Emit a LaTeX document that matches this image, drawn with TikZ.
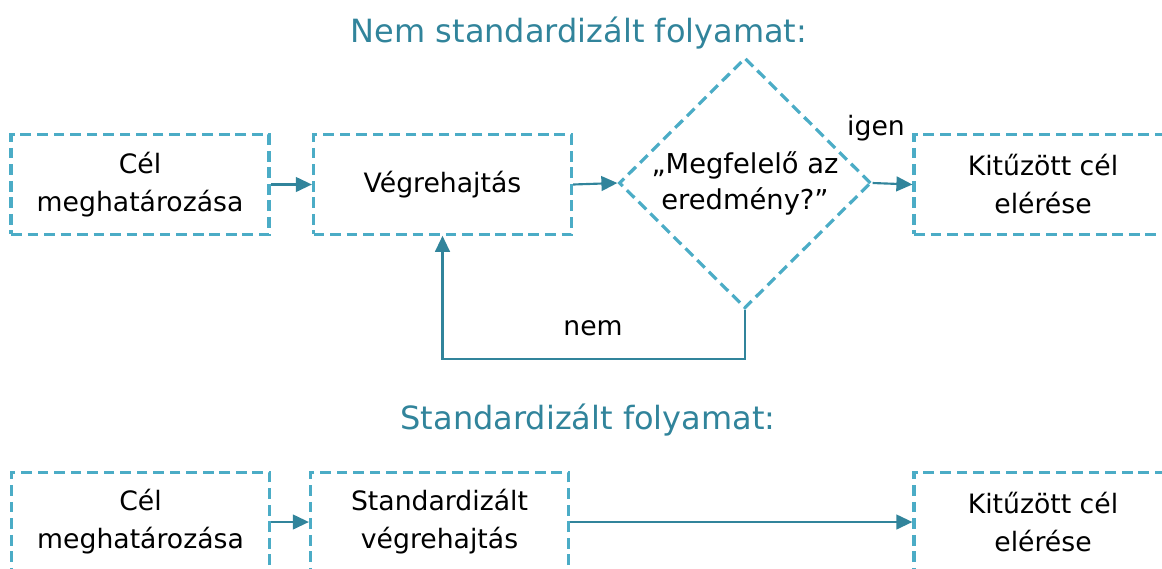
\documentclass[tikz,border=0pt]{standalone}
\usepackage{fontspec}
\setmainfont{DejaVu Sans}
\usetikzlibrary{shapes.geometric,arrows.meta}
\definecolor{boxline}{HTML}{4BACC6}
\definecolor{flow}{HTML}{31849B}
\begin{document}
\begin{tikzpicture}[x=0.75pt,y=-0.75pt,
  dashline/.style={draw=boxline, line width=2.4pt, dash pattern=on 8pt off 4.4pt},
  stepbox/.style={dashline, minimum width=193.5pt, minimum height=74.5pt,
    inner sep=0pt, align=center, font=\fontsize{20}{28.5}\selectfont},
  decision/.style={diamond, dashline, minimum width=189pt, minimum height=188pt,
    inner sep=0pt, align=center, font=\fontsize{20.5}{27}\selectfont},
  heading/.style={text=flow, font=\fontsize{24}{28}\selectfont, inner sep=0pt},
  label/.style={font=\fontsize{20}{24}\selectfont, inner sep=0pt},
  flowarrow/.style={draw=flow, line width=1.6pt, -{Triangle[length=12pt,width=11pt]}}]
  \clip (0,0) rectangle (1162,568);

  % non-standardised process
  \node[heading] (t1) at (579,33) {Nem standardizált folyamat:};
  \node[stepbox] (c1) at (140,184.5) {Cél\\meghatározása};
  \node[stepbox] (v1) at (442.5,184.5) {Végrehajtás};
  \node[decision] (d) at (745,183) {„Megfelelő az\\eredmény?”};
  \node[stepbox] (k1) at (1043,184.5) {Kitűzött cél\\elérése};
  \node[label] (igen) at (876,128) {igen};
  \node[label] (nem) at (593,328) {nem};

  \draw[flowarrow] (c1) -- (v1);
  \draw[flowarrow] (v1.east) -- (d.west);
  \draw[flowarrow] (d.east) -- (k1.west);
  \draw[flowarrow] (d.south) -- ++(0,49) -| (v1.south);

  % standardised process
  \node[heading] (t2) at (588,420) {Standardizált folyamat:};
  \node[stepbox] (c2) at (140.5,522) {Cél\\meghatározása};
  \node[stepbox] (s2) at (439.5,522) {Standardizált\\végrehajtás};
  \node[stepbox] (k2) at (1043,522) {Kitűzött cél\\elérése};

  \draw[flowarrow] (c2) -- (s2);
  \draw[flowarrow] (s2) -- (k2);
\end{tikzpicture}
\end{document}
